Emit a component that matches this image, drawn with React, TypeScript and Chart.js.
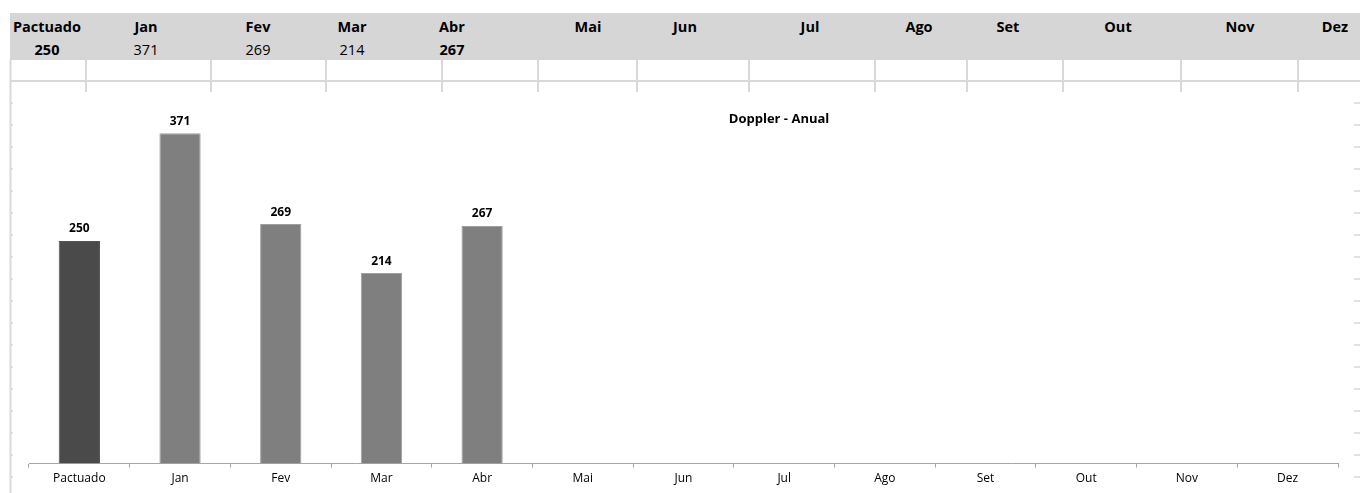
import React, { useEffect, useRef } from "react";
import { Chart, registerables } from "chart.js";
Chart.register(...registerables);

const categories = ["Pactuado", "Jan", "Fev", "Mar", "Abr", "Mai", "Jun", "Jul", "Ago", "Set", "Out", "Nov", "Dez"];
const values: (number | null)[] = [250, 371, 269, 214, 267, null, null, null, null, null, null, null, null];
const boldHeaderValues = [0, 4];
const chartTitle = "Doppler - Anual";
const yMax = 400;

// layout of the spreadsheet around the chart
const headerCenters = [47, 146, 258, 352, 452, 588, 685, 810, 919, 1008, 1118, 1240, 1335];
const gridCols = [86, 211, 326, 442, 538, 637, 749, 875, 967, 1063, 1181, 1298];
const FONT = "'Open Sans', 'Noto Sans', sans-serif";

const barLabels = {
  id: "barLabels",
  afterDatasetsDraw(chart: any) {
    const ctx = chart.ctx;
    const meta = chart.getDatasetMeta(0);
    ctx.save();
    ctx.font = `bold 12px ${FONT}`;
    ctx.fillStyle = "#000";
    ctx.textAlign = "center";
    ctx.textBaseline = "bottom";
    meta.data.forEach((bar: any, i: number) => {
      const v = values[i];
      if (v == null) return;
      ctx.fillText(String(v), bar.x, bar.y - 6);
    });
    const a = chart.chartArea;
    ctx.font = `bold 13px ${FONT}`;
    ctx.textBaseline = "middle";
    ctx.fillText(chartTitle, a.left + a.width * 0.573, 27);
    ctx.restore();
  },
};

export default function App() {
  const ref = useRef<HTMLCanvasElement>(null);
  useEffect(() => {
    document.body.style.margin = "0";
    const chart = new Chart(ref.current!, {
      type: "bar",
      data: {
        labels: categories,
        datasets: [
          {
            data: values,
            backgroundColor: values.map((_, i) => (i === 0 ? "#4a4a4a" : "#7f7f7f")),
            borderColor: values.map((_, i) => (i === 0 ? "#555555" : "#a0a0a0")),
            borderWidth: 1,
            barPercentage: 0.41,
            categoryPercentage: 1,
          },
        ],
      },
      options: {
        animation: false,
        responsive: false,
        maintainAspectRatio: false,
        layout: { padding: { left: 16, right: 16, top: 15.5, bottom: 3 } },
        plugins: { legend: { display: false }, tooltip: { enabled: false }, title: { display: false } },
        scales: {
          x: {
            grid: { offset: true, drawOnChartArea: false, drawTicks: true, tickLength: 4, color: "#a6a6a6" },
            border: { color: "#a6a6a6" },
            ticks: { color: "#000", font: { family: FONT, size: 12 }, padding: 4, maxRotation: 0 },
          },
          y: { display: false, min: 0, max: yMax },
        },
      },
      plugins: [barLabels],
    });
    return () => chart.destroy();
  }, []);

  const rowLines: number[] = [];
  for (let y = 103; y < 493; y += 22) rowLines.push(y);

  return (
    <div style={{ position: "fixed", left: 0, top: 0, width: 1360, height: 493, background: "#fff", overflow: "hidden" }}>
      <svg width={1360} height={493} style={{ position: "absolute", left: 0, top: 0 }}>
        <rect x={10} y={13} width={1350} height={47} fill="#d6d6d6" />
        <line x1={10.5} y1={60} x2={10.5} y2={493} stroke="#d9d9d9" strokeWidth={2} />
        <line x1={10} y1={81} x2={1360} y2={81} stroke="#d9d9d9" strokeWidth={2} />
        {gridCols.map((x) => (
          <line key={x} x1={x} y1={60} x2={x} y2={92} stroke="#d9d9d9" strokeWidth={2} />
        ))}
        {rowLines.map((y) => (
          <line key={y} x1={10} y1={y} x2={1360} y2={y} stroke="#d9d9d9" strokeWidth={1.5} />
        ))}
        {categories.map((c, i) => (
          <text key={c} x={headerCenters[i]} y={32} textAnchor="middle" fontFamily={FONT} fontWeight="bold" fontSize={14.5} fill="#000">
            {c}
          </text>
        ))}
        {values.map((v, i) =>
          v == null ? null : (
            <text key={i} x={headerCenters[i]} y={55} textAnchor="middle" fontFamily={FONT} fontWeight={boldHeaderValues.includes(i) ? "bold" : "normal"} fontSize={14.5} fill="#000">
              {v}
            </text>
          )
        )}
      </svg>
      <canvas ref={ref} width={1341} height={401} style={{ position: "absolute", left: 13, top: 92, width: 1341, height: 401, background: "#fff" }} />
    </div>
  );
}
